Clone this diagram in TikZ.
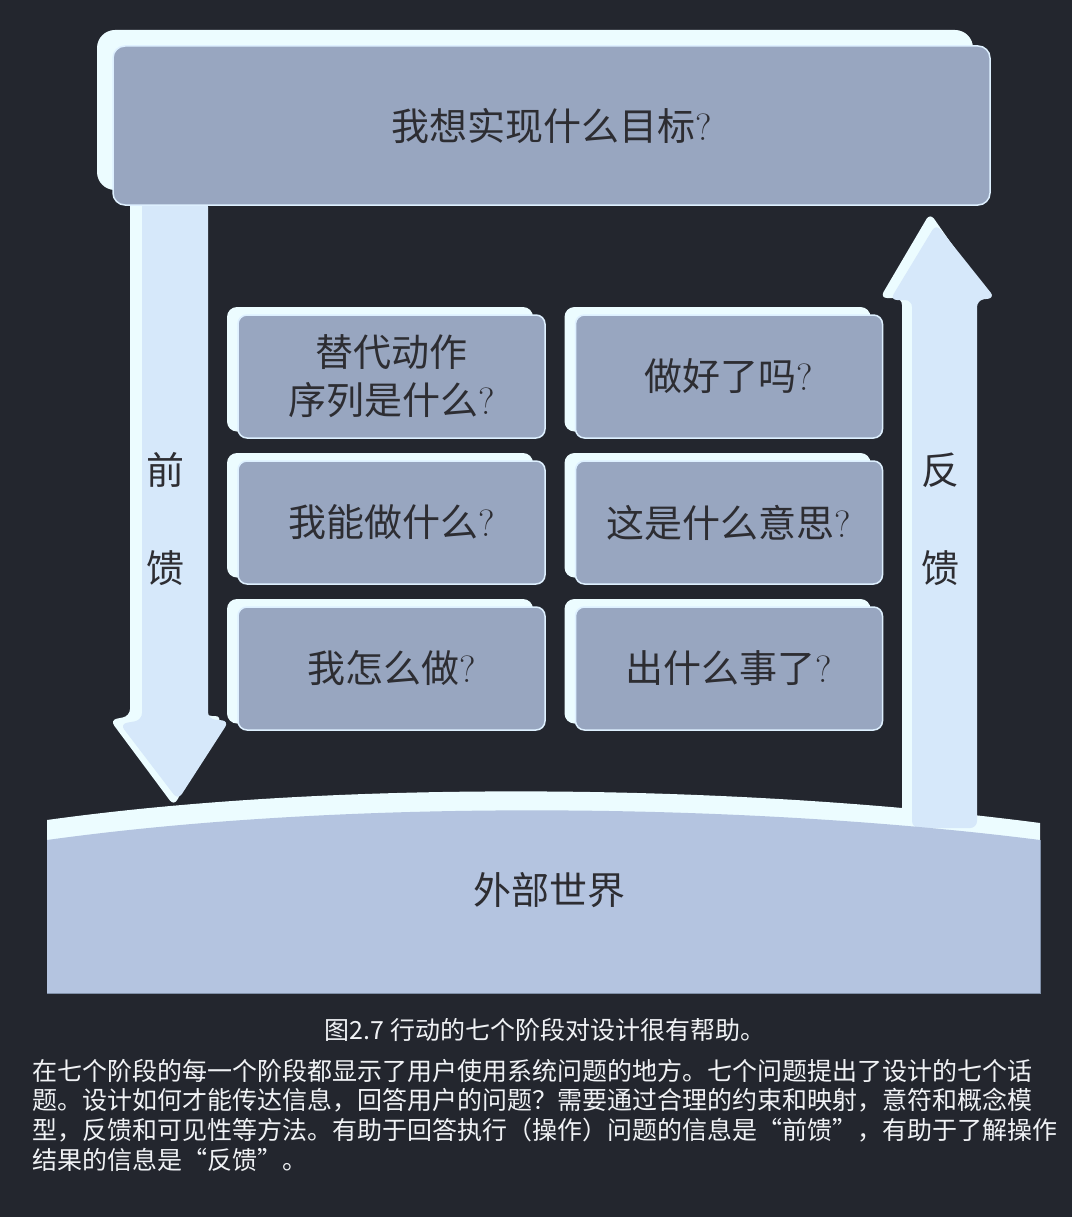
\documentclass[tikz,border=0pt]{standalone}
\usepackage{fontspec}
\newfontfamily\cjk{Noto Sans CJK SC}
\definecolor{bgc}{RGB}{35,38,46}
\definecolor{shellc}{RGB}{236,252,255}
\definecolor{boxc}{RGB}{152,166,192}
\definecolor{edgec}{RGB}{222,240,255}
\definecolor{arrowc}{RGB}{214,232,250}
\definecolor{worldc}{RGB}{180,196,224}
\definecolor{worldedge}{RGB}{128,144,168}
\definecolor{txtc}{RGB}{45,45,50}
\definecolor{captc}{RGB}{240,242,245}
\tikzset{
  shellfill/.style={fill=shellc, rounded corners=10pt},
  qbox/.style={draw=edgec, line width=1.5pt, fill=boxc, rounded corners=9pt,
    minimum width=307pt, minimum height=123pt, inner sep=0pt,
    font=\fontsize{38}{48}\selectfont, text=txtc, align=center},
  sidelabel/.style={font=\cjk\fontsize{38}{46}\selectfont, text=txtc, align=center},
  captline/.style={anchor=west, inner sep=0pt, font=\cjk\fontsize{25}{30}\selectfont, text=captc},
}
\begin{document}
\begin{tikzpicture}[x=1pt,y=-1pt]
\fill[bgc] (0,0) rectangle (1072,1217);
\useasboundingbox (0,0) rectangle (1072,1217);

% world light band
\fill[shellc] (47,820) .. controls (350,778) and (750,785) .. (1040,823)
  -- (1040,993) -- (47,993) -- cycle;

% left (feedforward) arrow
\fill[shellc, rounded corners=7pt] (130,200) -- (130,716) -- (110,720) -- (174,806) -- (222,716) -- (205,716) -- (205,200) -- cycle;
\fill[arrowc, rounded corners=7pt] (142,200) -- (142,720) -- (120,724) -- (178,800) -- (229,721) -- (208,719) -- (208,200) -- cycle;
\node[sidelabel] (ff1) at (165,470) {前};
\node[sidelabel] (ff2) at (165,568) {馈};

% right (feedback) arrow
\fill[shellc, rounded corners=7pt] (902,830) -- (902,298) -- (880,298) -- (930,213) -- (988,296) -- (972,298) -- (972,830) -- cycle;
\fill[arrowc, rounded corners=7pt] (912,828) -- (912,300) -- (890,300) -- (936,224) -- (995,298) -- (977,300) -- (977,828) -- cycle;
\node[sidelabel] (fb1) at (940,470) {反};
\node[sidelabel] (fb2) at (940,568) {馈};

% world body
\fill[worldc] (47,840) .. controls (350,798) and (750,803) .. (1040,840)
  -- (1040,993) -- (47,993) -- cycle;
\draw[worldedge, line width=1pt] (47,993) -- (1040,993) -- (1040,840);
\node[font=\cjk\fontsize{38}{46}\selectfont, text=txtc] (world) at (549,890) {外部世界};

% top goal box
\fill[shellc, rounded corners=18pt] (97,30) rectangle (973,190);
\node[qbox, minimum width=877pt, minimum height=159pt, rounded corners=12pt] (goal) at (551.5,125.5) {{\cjk 我想实现什么目标}?};

% shells behind the six question boxes
\foreach \cx/\cy in {391.5/376.5, 391.5/522.5, 391.5/668.5, 729/376.5, 729/522.5, 729/668.5}
  \fill[shellfill] (\cx-164.5,\cy-69.5) rectangle (\cx+141.5,\cy+55);

% six question boxes
\node[qbox] (b1) at (391.5,376.5) {{\cjk 替代动作}\\{\cjk 序列是什么}?};
\node[qbox] (b2) at (391.5,522.5) {{\cjk 我能做什么}?};
\node[qbox] (b3) at (391.5,668.5) {{\cjk 我怎么做}?};
\node[qbox] (b4) at (729,376.5) {{\cjk 做好了吗}?};
\node[qbox] (b5) at (729,522.5) {{\cjk 这是什么意思}?};
\node[qbox] (b6) at (729,668.5) {{\cjk 出什么事了}?};

% caption
\node[font=\cjk\fontsize{25}{30}\selectfont, text=captc] (title) at (545,1030) {图2.7 行动的七个阶段对设计很有帮助。};
\node[captline] (c1) at (32,1071) {在七个阶段的每一个阶段都显示了用户使用系统问题的地方。七个问题提出了设计的七个话};
\node[captline] (c2) at (32,1100) {题。设计如何才能传达信息，回答用户的问题？需要通过合理的约束和映射，意符和概念模};
\node[captline] (c3) at (32,1130) {型，反馈和可见性等方法。有助于回答执行（操作）问题的信息是“前馈”，有助于了解操作};
\node[captline] (c4) at (32,1160) {结果的信息是“反馈”。};
\end{tikzpicture}
\end{document}
